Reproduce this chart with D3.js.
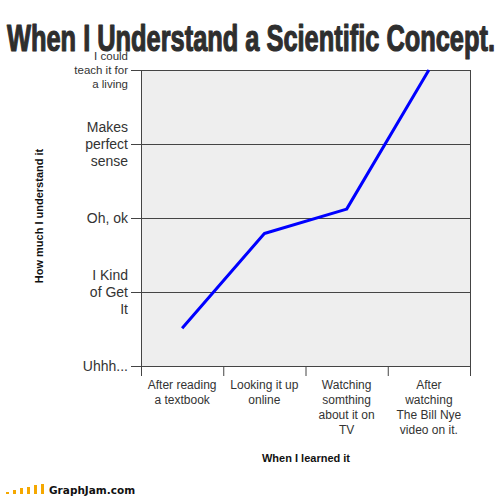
<!DOCTYPE html>
<html><head><meta charset="utf-8">
<script src="https://cdn.jsdelivr.net/npm/d3@7"></script>
<style>body{margin:0;background:#fff}svg{display:block}</style>
</head><body>
<svg id="c" width="504" height="497"></svg>
<script>
const categories = [
  ["After reading","a textbook"],
  ["Looking it up","online"],
  ["Watching","somthing","about it on","TV"],
  ["After","watching","The Bill Nye","video on it."]
];
const values = [0.51, 1.79, 2.12, 4.0];
const yTickLabels = [
  ["Uhhh..."],
  ["I Kind","of Get","It"],
  ["Oh, ok"],
  ["Makes","perfect","sense"],
  ["I could","teach it for","a living"]
];
const title = "When I Understand a Scientific Concept.";
const xTitle = "When I learned it";
const yTitle = "How much I understand it";

const svg = d3.select("#c");
const L = 141, R = 470, T = 70, B = 366;
const x = d3.scaleBand().domain(d3.range(categories.length)).range([L, R]);
const y = d3.scaleLinear().domain([0, 4]).range([B, T]);

// title
svg.append("text").attr("x", 7).attr("y", 51)
  .attr("font-family", "Liberation Sans Narrow, Arial Narrow, sans-serif")
  .attr("font-weight", "bold").attr("font-size", 37).attr("fill", "#2e2e2e")
  .attr("stroke", "#2e2e2e").attr("stroke-width", 1.2).attr("stroke-linejoin", "round")
  .attr("textLength", 488).attr("lengthAdjust", "spacingAndGlyphs")
  .text(title);

// plot background
svg.append("rect").attr("x", L).attr("y", T).attr("width", R - L).attr("height", B - T).attr("fill", "#eeeeee");

// gridlines + y ticks
const yt = d3.range(5);
svg.append("g").selectAll("line").data(yt).join("line")
  .attr("x1", L - 10).attr("x2", R).attr("y1", d => y(d) + 0.5).attr("y2", d => y(d) + 0.5)
  .attr("stroke", "#444").attr("stroke-width", 1);

// borders
svg.append("line").attr("x1", L + 0.5).attr("x2", L + 0.5).attr("y1", T).attr("y2", B + 10).attr("stroke", "#444");
svg.append("line").attr("x1", R + 0.5).attr("x2", R + 0.5).attr("y1", T).attr("y2", B + 10).attr("stroke", "#444");

// x ticks
svg.append("g").selectAll("line").data(d3.range(1, categories.length)).join("line")
  .attr("x1", d => x(d) + 0.5).attr("x2", d => x(d) + 0.5).attr("y1", B).attr("y2", B + 10)
  .attr("stroke", "#444");

// y tick labels
const yl = svg.append("g").attr("font-family", "Liberation Sans, Arial, sans-serif").attr("fill", "#333").attr("text-anchor", "end");
yTickLabels.forEach((lines, i) => {
  const small = i === 4;
  const fs = small ? 11.5 : 14;
  const lh = small ? 14 : 17;
  const t = yl.append("text").attr("font-size", fs);
  const n = lines.length;
  lines.forEach((ln, j) => {
    t.append("tspan").attr("x", 128)
      .attr("y", y(i) + (j - (n - 1) / 2) * lh + fs * 0.36).text(ln);
  });
});

// x tick labels
const xl = svg.append("g").attr("font-family", "Liberation Sans, Arial, sans-serif").attr("fill", "#333").attr("text-anchor", "middle").attr("font-size", 12);
categories.forEach((lines, i) => {
  const t = xl.append("text");
  lines.forEach((ln, j) => {
    t.append("tspan").attr("x", x(i) + x.bandwidth() / 2).attr("y", 389 + j * 15).text(ln);
  });
});

// axis titles
svg.append("text").attr("x", 306).attr("y", 462).attr("text-anchor", "middle")
  .attr("font-family", "Liberation Sans, Arial, sans-serif").attr("font-weight", "bold").attr("font-size", 11).attr("fill", "#111")
  .text(xTitle);
svg.append("text").attr("transform", "translate(43,216) rotate(-90)").attr("text-anchor", "middle")
  .attr("font-family", "Liberation Sans, Arial, sans-serif").attr("font-weight", "bold").attr("font-size", 11).attr("fill", "#111")
  .text(yTitle);

// line
svg.append("path").datum(values)
  .attr("d", d3.line().x((d, i) => x(i) + x.bandwidth() / 2).y(d => y(d)))
  .attr("fill", "none").attr("stroke", "#0000ff").attr("stroke-width", 3).attr("stroke-linejoin", "round");

// watermark
const wm = svg.append("g");
[2, 4, 6, 7, 9, 10].forEach((h, i) => {
  wm.append("rect").attr("x", 6 + i * 7).attr("y", 494 - h).attr("width", 3).attr("height", h).attr("fill", "#f5a800");
});
wm.append("text").attr("x", 49).attr("y", 494).attr("font-family", "DejaVu Sans, sans-serif").attr("font-weight", "bold")
  .attr("font-size", 10.5).attr("fill", "#111").text("GraphJam.com");
</script>
</body></html>
